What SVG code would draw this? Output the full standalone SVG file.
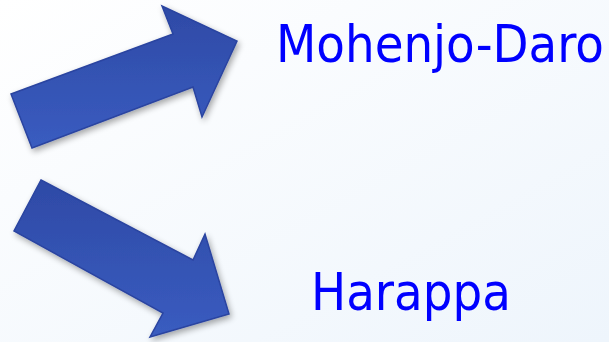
<svg xmlns="http://www.w3.org/2000/svg" width="609" height="342" viewBox="0 0 609 342">
<defs>
<linearGradient id="bg" x1="0" y1="0" x2="1" y2="1">
<stop offset="0" stop-color="#ffffff"/>
<stop offset="1" stop-color="#eef5fc"/>
</linearGradient>
<linearGradient id="arr" x1="0" y1="0" x2="0" y2="1">
<stop offset="0" stop-color="#2e4aa6"/>
<stop offset="1" stop-color="#3a5cc0"/>
</linearGradient>
<filter id="sh" x="-20%" y="-20%" width="140%" height="140%">
<feGaussianBlur in="SourceAlpha" stdDeviation="3"/>
<feOffset dx="2" dy="3" result="b"/>
<feComponentTransfer><feFuncA type="linear" slope="0.35"/></feComponentTransfer>
<feMerge><feMergeNode/><feMergeNode in="SourceGraphic"/></feMerge>
</filter>
<style>
.arrow{fill:url(#arr);stroke:#2a44a0;stroke-width:1.5;stroke-linejoin:miter;filter:url(#sh)}
.lbl{font-family:"DejaVu Sans Condensed","DejaVu Sans",sans-serif;font-stretch:condensed;font-size:52px;fill:#0000ff}
</style>
</defs>
<rect width="609" height="342" fill="url(#bg)"/>
<g id="arrow-up">
<polygon class="arrow" points="11,94 173,34 162,6 237,41 202,117 193,87 32,148"/>
</g>
<g id="arrow-down">
<polygon class="arrow" points="41,180 193,260 205,234 229,314 150,337 163,313 14,231"/>
</g>
<g id="mohenjo-daro">
<text class="lbl" x="276" y="62">Mohenjo-Daro</text>
</g>
<g id="harappa">
<text class="lbl" x="311" y="310">Harappa</text>
</g>
</svg>
